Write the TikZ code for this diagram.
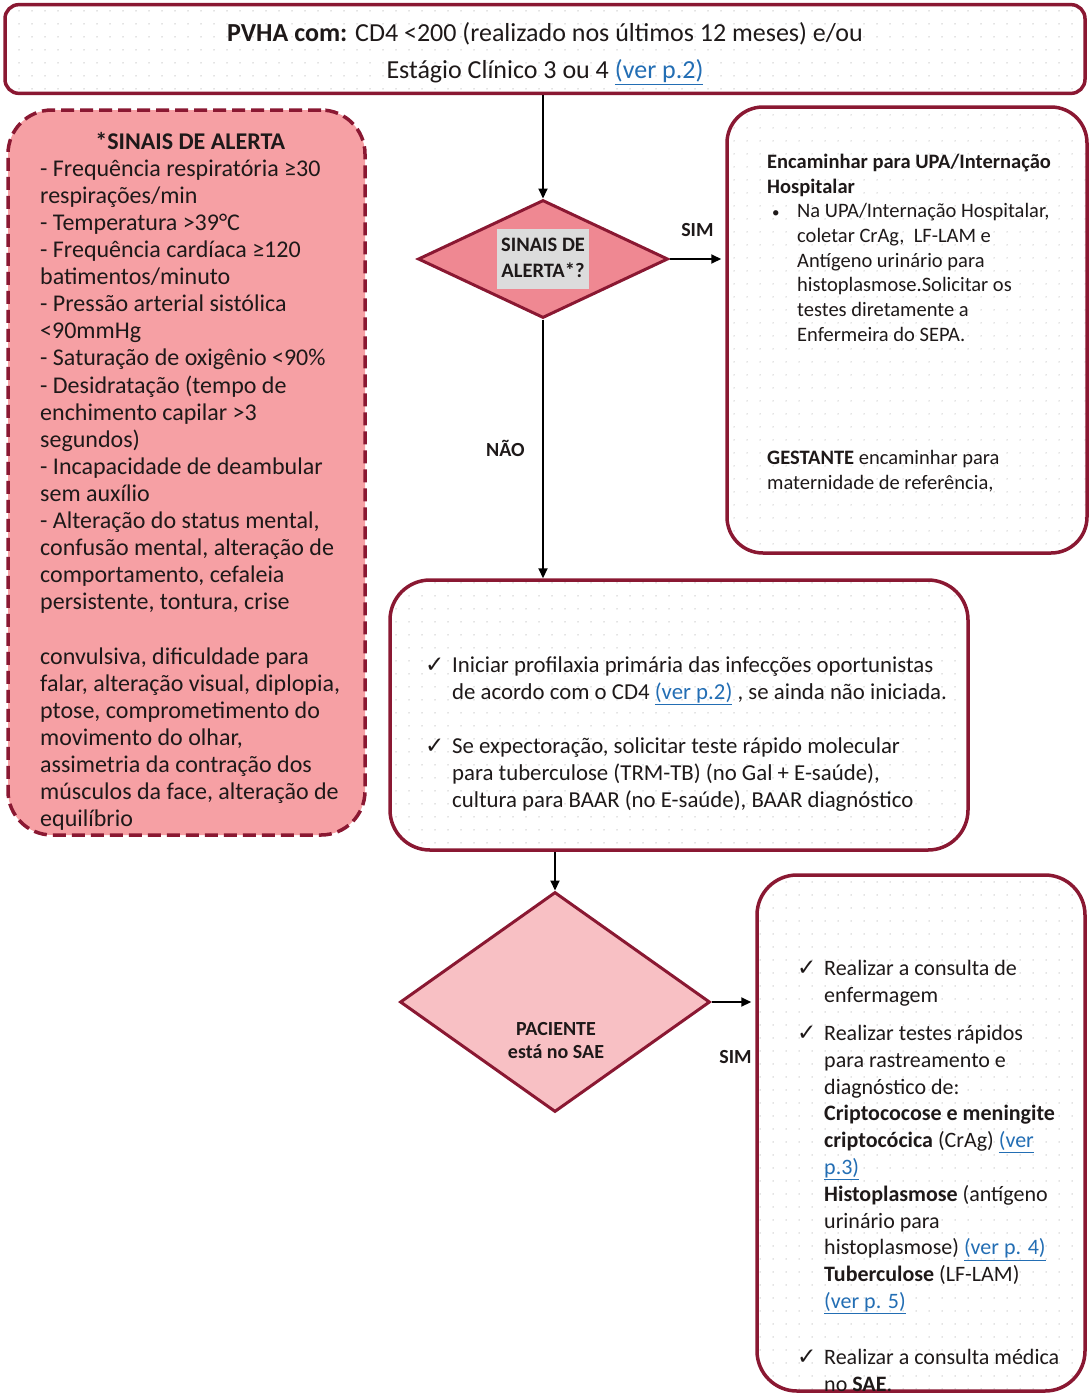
\documentclass[tikz,border=0pt]{standalone}
\usepackage{fontspec}
\setmainfont{Carlito}
\newfontfamily\checkfont{DejaVu Sans}
\usetikzlibrary{shapes.geometric,arrows.meta,patterns.meta}

\definecolor{borda}{RGB}{138,24,50}
\definecolor{rosa}{RGB}{246,160,164}
\definecolor{rosaforte}{RGB}{239,136,146}
\definecolor{rosaclaro}{RGB}{248,192,196}
\definecolor{azullink}{RGB}{35,110,180}
\definecolor{cinzamarca}{RGB}{220,220,220}
\definecolor{cinzaponto}{RGB}{200,200,200}
\definecolor{texto}{RGB}{30,25,25}

\tikzdeclarepattern{name=pontos,type=uncolored,bounding box={(0pt,0pt) and (13pt,13pt)},tile size={(13pt,13pt)},code={\fill (6.5pt,6.5pt) circle (0.8pt);}}

\newcommand{\verpag}[1]{\textcolor{azullink}{\underline{#1}}}
\newcommand{\ok}{\makebox[27pt][l]{\checkfont\fontsize{23}{23}\selectfont ✓}}
\newcommand{\bola}{{\fontsize{15}{15}\selectfont •}}

\begin{document}
\begin{tikzpicture}[x=1pt,y=-1pt,
  caixa/.style={rectangle,rounded corners=36pt,draw=borda,line width=3.5pt,preaction={fill=white},pattern=pontos,pattern color=cinzaponto},
  alerta/.style={rectangle,rounded corners=44pt,draw=borda,line width=3.5pt,dash pattern=on 13pt off 6pt,fill=rosa},
  decisao/.style={diamond,draw=borda,line width=3pt,inner sep=0pt},
  seta/.style={-{Triangle[length=10pt,width=9pt]},line width=2pt,black},
  rotulo/.style={font=\fontsize{20}{22}\selectfont\bfseries,text=texto},
  lista/.style={anchor=north west,inner sep=0pt,text=texto}]
  \useasboundingbox (0,0) rectangle (1089,1395);

  \node[caixa,rounded corners=14pt,minimum width=1080pt,minimum height=88pt,font=\fontsize{26}{37}\selectfont,text=texto] (caixa pvha) at (545,49) {\begin{tabular}{@{}c@{}}\rule{0pt}{34pt}\textbf{PVHA com:} CD4 <200 (realizado nos últimos 12 meses) e/ou\\Estágio Clínico 3 ou 4 \verpag{(ver p.2)}\end{tabular}};

  \node[alerta,minimum width=357pt,minimum height=725pt] (caixa alerta) at (186.5,472.5) {};
  \node[lista,font=\fontsize{24}{27.1}\selectfont] (texto alerta) at (40,130) {\begin{tabular}{@{}l@{}}
    \multicolumn{1}{@{}c@{}}{\textbf{*SINAIS DE ALERTA}}\\
    - Frequência respiratória ≥30\\
    respirações/min\\
    - Temperatura >39°C\\
    - Frequência cardíaca ≥120\\
    batimentos/minuto\\
    - Pressão arterial sistólica\\
    <90mmHg\\
    - Saturação de oxigênio <90\%\\
    - Desidratação (tempo de\\
    enchimento capilar >3\\
    segundos)\\
    - Incapacidade de deambular\\
    sem auxílio\\
    - Alteração do status mental,\\
    confusão mental, alteração de\\
    comportamento, cefaleia\\
    persistente, tontura, crise\\
    \\
    convulsiva, dificuldade para\\
    falar, alteração visual, diplopia,\\
    ptose, comprometimento do\\
    movimento do olhar,\\
    assimetria da contração dos\\
    músculos da face, alteração de\\
    equilíbrio
  \end{tabular}};

  \node[decisao,fill=rosaforte,minimum width=250pt,minimum height=118pt,aspect=2.1,font=\fontsize{20.5}{26}\selectfont\bfseries,text=texto] (decisao alerta) at (543,259) {\setlength{\fboxsep}{4pt}\colorbox{cinzamarca}{\begin{tabular}{@{}c@{}}SINAIS DE\\ALERTA*?\end{tabular}}};

  \node[caixa,minimum width=360pt,minimum height=446pt] (caixa upa) at (907,330) {};
  \node[lista,font=\fontsize{20.5}{24.7}\selectfont] (texto upa) at (767,151) {\begin{tabular}{@{}p{30pt}@{}l@{}}
    \multicolumn{2}{@{}l@{}}{\textbf{Encaminhar para UPA/Internação}}\\
    \multicolumn{2}{@{}l@{}}{\textbf{Hospitalar}}\\
    \hspace{5pt}\bola & Na UPA/Internação Hospitalar,\\
    & coletar CrAg,\ \ LF-LAM e\\
    & Antígeno urinário para\\
    & histoplasmose.Solicitar os\\
    & testes diretamente a\\
    & Enfermeira do SEPA.\\
    \\ \\ \\ \\
    \multicolumn{2}{@{}l@{}}{\textbf{GESTANTE} encaminhar para}\\
    \multicolumn{2}{@{}l@{}}{maternidade de referência,}
  \end{tabular}};

  \node[caixa,rounded corners=40pt,minimum width=578pt,minimum height=270pt] (caixa profilaxia) at (679,715) {};
  \node[lista,font=\fontsize{22.8}{27}\selectfont] (texto profilaxia) at (425,653) {\begin{tabular}{@{}l@{}l@{}}
    \ok & Iniciar profilaxia primária das infecções oportunistas\\
    & de acordo com o CD4 \verpag{(ver p.2)} , se ainda não iniciada.\\
    \\
    \ok & Se expectoração, solicitar teste rápido molecular\\
    & para tuberculose (TRM-TB) (no Gal + E-saúde),\\
    & cultura para BAAR (no E-saúde), BAAR diagnóstico
  \end{tabular}};

  \node[decisao,fill=rosaclaro,minimum width=310pt,minimum height=220pt,aspect=1.4] (decisao sae) at (555,1002) {};
  \node[rotulo,font=\fontsize{20}{23}\selectfont\bfseries] (texto paciente) at (556,1042) {\begin{tabular}{@{}c@{}}PACIENTE\\está no SAE\end{tabular}};

  \node[caixa,rounded corners=40pt,minimum width=328pt,minimum height=516pt] (caixa sae) at (921,1133) {};
  \node[lista,font=\fontsize{22}{26.8}\selectfont] (texto sae) at (797,957) {\begin{tabular}{@{}l@{}l@{}}
    \ok & Realizar a consulta de\\
    & enfermagem\\[11pt]
    \ok & Realizar testes rápidos\\
    & para rastreamento e\\
    & diagnóstico de:\\
    & \textbf{Criptococose e meningite}\\
    & \textbf{criptocócica} (CrAg) \verpag{(ver}\\
    & \verpag{p.3)}\\
    & \textbf{Histoplasmose} (antígeno\\
    & urinário para\\
    & histoplasmose) \verpag{(ver p. 4)}\\
    & \textbf{Tuberculose} (LF-LAM)\\
    & \verpag{(ver p. 5)}\\[29pt]
    \ok & Realizar a consulta médica\\
    & no \textbf{SAE}.
  \end{tabular}};

  \draw[seta] (caixa pvha.south -| decisao alerta.north) -- (decisao alerta.north);
  \draw[seta,shorten >=4pt] (decisao alerta.east) -- node[rotulo,above=18pt] {SIM} (decisao alerta.east -| caixa upa.west);
  \draw[seta] (decisao alerta.south) -- node[rotulo,left=14pt] {NÃO} (decisao alerta.south |- caixa profilaxia.north);
  \draw[seta] (decisao sae.north |- caixa profilaxia.south) -- (decisao sae.north);
  \draw[seta,shorten >=4pt] (decisao sae.east) -- node[rotulo,pos=.55,below=44pt] {SIM} (decisao sae.east -| caixa sae.west);
\end{tikzpicture}
\end{document}
